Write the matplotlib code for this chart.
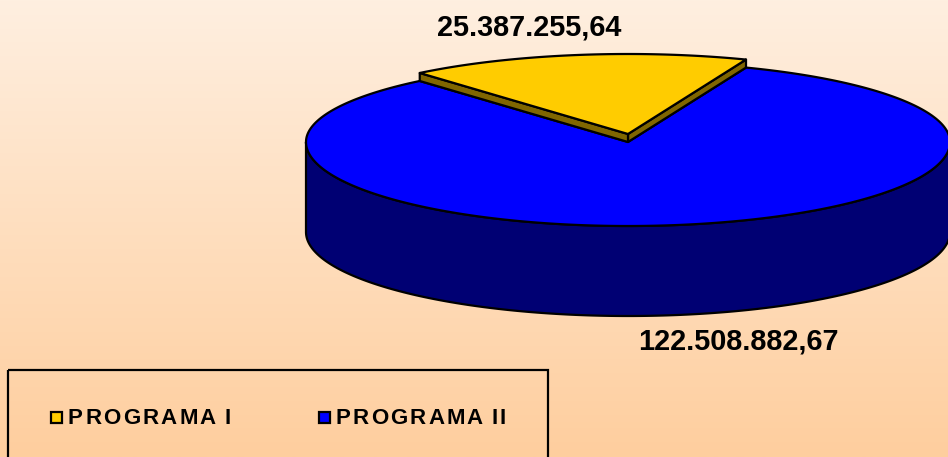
import numpy as np
import matplotlib.pyplot as plt
from matplotlib.patches import Polygon, Rectangle

programas = ['PROGRAMA I', 'PROGRAMA II']
valores = np.array([25387255.64, 122508882.67])
color_tapa = ['#FFCC00', '#0000FF']
color_lado = ['#806600', '#000073']


def fmt(v):
    # formato 25.387.255,64
    s = f'{v:,.2f}'
    return s.replace(',', 'X').replace('.', ',').replace('X', '.')


W, H = 948, 457
fig = plt.figure(figsize=(W / 100, H / 100), dpi=100)
ax = fig.add_axes([0, 0, 1, 1])

# fondo degradado
g = np.linspace(0, 1, 256)[:, None, None]
c_arriba = np.array([254, 239, 224]) / 255
c_abajo = np.array([255, 206, 158]) / 255
ax.imshow(c_arriba + (c_abajo - c_arriba) * g, extent=[0, W, H, 0], aspect='auto', zorder=0)
ax.set_xlim(0, W)
ax.set_ylim(H, 0)
ax.axis('off')

# torta 3D
cx, cy = 628, 142
a, b_lejos, b_cerca = 322, 80, 84
prof = 90
alza = 8
inicio = 68.5


def pt(th, dy=0):
    t = np.radians(np.atleast_1d(th))
    s = np.sin(t)
    bb = np.where(s > 0, b_lejos, b_cerca)
    return np.column_stack([cx + a * np.cos(t), cy - bb * s + dy])


barrido = 360 * valores / valores.sum()
a0 = inicio
a1 = inicio + barrido[0]
a2 = inicio + 360

borde = dict(edgecolor='black', lw=1.6, joinstyle='round')

# lado azul (mitad frontal)
th = np.linspace(180, 360, 300)
lado = np.vstack([pt(th), pt(th[::-1], prof)])
ax.add_patch(Polygon(lado, facecolor=color_lado[1], zorder=2, **borde))

# tapa azul
tapa = np.vstack([[cx, cy], pt(np.linspace(a1, a2, 400))])
ax.add_patch(Polygon(tapa, facecolor=color_tapa[1], zorder=3, **borde))

# porcion amarilla, levantada
for e in (a0, a1):
    q = np.vstack([[cx, cy - alza], pt(e, -alza), pt(e), [cx, cy]])
    ax.add_patch(Polygon(q, facecolor=color_lado[0], zorder=4, **borde))
tapa_y = np.vstack([[cx, cy - alza], pt(np.linspace(a0, a1, 200), -alza)])
ax.add_patch(Polygon(tapa_y, facecolor=color_tapa[0], zorder=5, **borde))

# etiquetas de valores
fuente = 'Liberation Sans'
ax.text(529, 28, fmt(valores[0]), ha='center', va='center', fontsize=20.8,
        fontweight='bold', family=fuente, zorder=6)
ax.text(738, 342, fmt(valores[1]), ha='center', va='center', fontsize=20.8,
        fontweight='bold', family=fuente, zorder=6)

# leyenda
ax.add_patch(Rectangle((8, 370), 540, 120, fill=False, edgecolor='black', lw=1.6, zorder=6))

r = fig.canvas.get_renderer()


def espaciado(x, y, s, ancho, size):
    kw = dict(fontsize=size, fontweight='bold', family=fuente, va='center', ha='left', zorder=7)
    anchos = []
    for ch in s:
        if ch == ' ':
            anchos.append(size * 100 / 72 * 0.2)
        else:
            t = ax.text(0, 0, ch, **kw)
            anchos.append(t.get_window_extent(r).width)
            t.remove()
    esp = (ancho - sum(anchos)) / (len(s) - 1)
    for ch, w in zip(s, anchos):
        if ch != ' ':
            ax.text(x, y, ch, **kw)
        x += w + esp


leg_x = [51, 319]
leg_ancho = [163, 170]
for i, nombre in enumerate(programas):
    ax.add_patch(Rectangle((leg_x[i], 412), 11, 11, facecolor=color_tapa[i],
                           edgecolor='black', lw=1.6, zorder=7))
    espaciado(leg_x[i] + 17, 419, nombre, leg_ancho[i], 16)

fig.savefig('out.png', dpi=100)
